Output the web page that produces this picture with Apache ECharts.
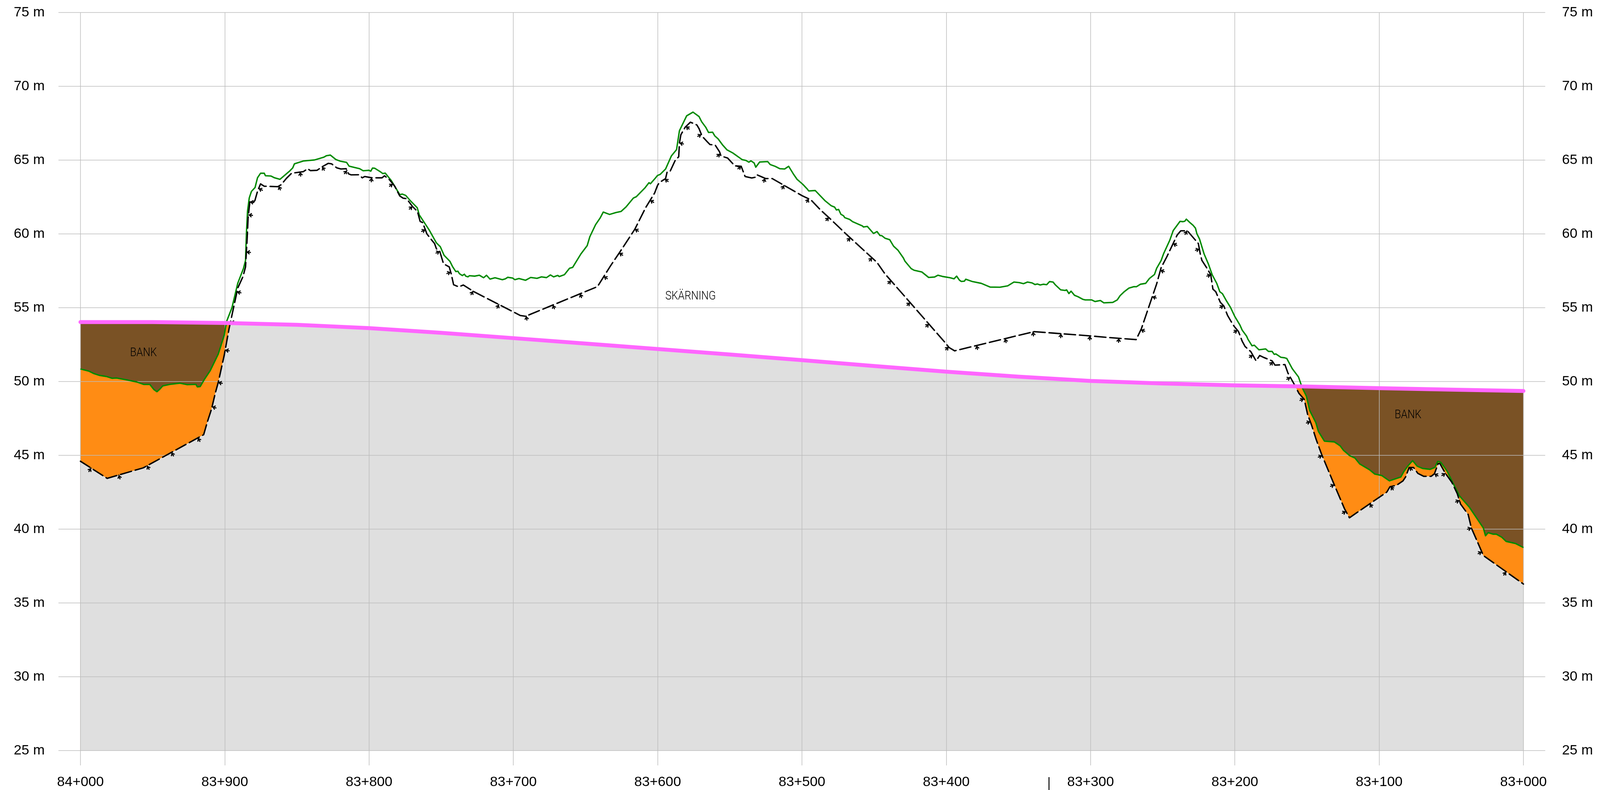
<!DOCTYPE html>
<html>
<head>
<meta charset="utf-8">
<script src="https://cdn.jsdelivr.net/npm/echarts@6/dist/echarts.min.js"></script>
<style>html,body{margin:0;padding:0;background:#fff;overflow:hidden}#c{width:100vw;height:100vh}</style>
</head>
<body>
<div id="c"></div>
<script>
const stationRange = [83000, 84000];
const levelRange = [25, 75];

const roadLine = [[84000,54.03],[83950,54.03],[83900,53.97],[83850,53.84],[83831,53.76],[83800,53.62],[83750,53.3],[83700,52.94],[83650,52.57],[83600,52.2],[83550,51.83],[83500,51.45],[83450,51.05],[83400,50.67],[83350,50.33],[83300,50.04],[83250,49.87],[83200,49.74],[83150,49.66],[83100,49.55],[83050,49.45],[83000,49.36]];

const groundLine = [[84000,50.85],[83998,50.8],[83994,50.7],[83991,50.55],[83987,50.42],[83982,50.34],[83978,50.22],[83975,50.24],[83967,50.09],[83961,49.97],[83956,49.8],[83952,49.81],[83949,49.45],[83947,49.31],[83945,49.48],[83943,49.7],[83938,49.81],[83931,49.89],[83926,49.79],[83920,49.81],[83919,49.64],[83917,49.66],[83914,50.16],[83910,50.75],[83904.5,51.86],[83900.4,53.12],[83898.6,54.1],[83895,55],[83891,56.65],[83887,57.67],[83885.6,58.2],[83885,60],[83884.2,61.55],[83883,62.44],[83881.5,62.88],[83879,63.14],[83877.3,63.8],[83875.2,64.11],[83872.6,64.11],[83871.8,63.94],[83867.9,63.92],[83865.5,63.8],[83861.7,63.7],[83854.9,64.27],[83852.9,64.47],[83851.7,64.75],[83845.5,64.94],[83837.8,65.01],[83831.3,65.2],[83829.5,65.3],[83826.8,65.34],[83823,65.04],[83820,64.93],[83815.6,64.85],[83813.8,64.59],[83806.5,64.42],[83804.1,64.28],[83800,64.31],[83798.8,64.25],[83797.6,64.46],[83796.1,64.45],[83792.3,64.22],[83790.5,64.09],[83788.8,64.12],[83784.7,63.63],[83778.7,62.66],[83777,62.7],[83774.6,62.61],[83771.1,62.22],[83766.6,61.77],[83765.2,61.29],[83758.1,60.23],[83753.3,59.39],[83750.6,59.13],[83748,58.55],[83744,58.15],[83742.2,57.8],[83739.9,57.45],[83738.4,57.47],[83737.4,57.31],[83735.4,57.18],[83733.9,57.27],[83733,57.14],[83731.4,57.09],[83730.5,57.17],[83726.8,57.14],[83723.5,57.2],[83720.6,57.03],[83718.6,57.2],[83716.2,56.94],[83712.7,57.03],[83707.6,56.9],[83705.5,56.96],[83703.9,57.06],[83700.5,57.01],[83699,56.9],[83696.1,56.98],[83691.5,56.86],[83688,57.05],[83683.6,56.99],[83680.5,57.09],[83677,57.04],[83674.3,57.22],[83672.1,57.09],[83669.2,57.19],[83668.2,57.11],[83664.6,57.24],[83661.1,57.67],[83658.9,57.73],[83653.2,58.64],[83648.8,59.21],[83647,59.81],[83643,60.63],[83639.9,61.07],[83637.7,61.48],[83633.3,61.32],[83628.9,61.45],[83625.4,61.52],[83621.9,61.83],[83616.8,62.43],[83614.8,62.52],[83608.7,63.13],[83606,63.47],[83605,63.4],[83601.6,63.78],[83600.1,63.96],[83598.3,64.03],[83594.5,64.4],[83590.5,65.28],[83586.9,65.71],[83584.9,66.99],[83579.9,68],[83575.5,68.25],[83571.3,67.95],[83569.5,67.6],[83566.7,67.23],[83564.7,66.87],[83561.9,66.89],[83560.4,66.64],[83558.1,66.44],[83555.1,66.04],[83552,65.7],[83548,65.49],[83541.4,65.03],[83538.9,64.98],[83536.8,64.86],[83535.3,64.95],[83533.1,64.8],[83532,64.52],[83529.3,64.87],[83523.7,64.9],[83522,64.7],[83518.6,64.58],[83515.4,64.42],[83512,64.4],[83509.2,64.58],[83506,64.07],[83503.4,63.7],[83499.4,63.36],[83496.4,63.05],[83495.3,62.91],[83490.8,62.94],[83487.2,62.57],[83483.8,62.23],[83479.7,61.91],[83477.4,61.82],[83476.1,61.62],[83474.6,61.66],[83473,61.33],[83471.2,61.23],[83470.3,61.1],[83466.9,60.98],[83464.9,60.83],[83458.1,60.54],[83457.4,60.47],[83454.7,60.51],[83450.4,60.03],[83448,60.16],[83445.9,59.89],[83444.6,59.88],[83442.3,59.7],[83439.2,59.61],[83436.5,59.17],[83433.5,58.9],[83429.7,58.37],[83428.6,58.15],[83424.3,57.65],[83422.3,57.54],[83416.9,57.42],[83412.2,57.05],[83408.1,57.08],[83405.8,57.2],[83402.7,57.12],[83397.3,57.03],[83394.6,56.96],[83392.8,57.14],[83390.9,56.87],[83389.6,56.78],[83387.4,56.8],[83386.5,56.93],[83381.8,56.77],[83375.7,56.65],[83369.6,56.4],[83362.8,56.39],[83357.4,56.48],[83353.1,56.74],[83349.3,56.7],[83346.4,56.63],[83343.7,56.74],[83340.5,56.68],[83338.5,56.57],[83336.9,56.61],[83334.9,56.54],[83332.8,56.59],[83330.4,56.56],[83328.4,56.77],[83326,56.74],[83324.3,56.54],[83320.7,56.21],[83317.6,56.17],[83316.6,56.21],[83315,55.96],[83313.5,56.12],[83311.1,55.84],[83308.8,55.75],[83305.4,55.57],[83303.7,55.53],[83299.3,55.53],[83296.9,55.42],[83293.2,55.49],[83290.8,55.33],[83284.6,55.36],[83281.5,55.53],[83279.5,55.82],[83276.7,56.08],[83273.4,56.33],[83269.9,56.43],[83268.2,56.42],[83265.5,56.59],[83261.8,56.65],[83259.2,56.98],[83255.7,57.25],[83254.2,57.67],[83251.1,58.2],[83249.3,58.68],[83245.1,59.57],[83242.7,60.23],[83238,60.85],[83235.9,60.83],[83234.7,60.86],[83233.6,61],[83231.4,60.79],[83228.9,60.58],[83227.3,60.39],[83226.3,60.01],[83224.5,59.66],[83221.3,58.64],[83218.2,57.93],[83215.7,57.23],[83212.5,56.64],[83210.4,56.08],[83208.6,55.95],[83206.1,55.51],[83203,55.02],[83200,54.4],[83196.5,53.83],[83194.9,53.48],[83191.9,53.08],[83190.9,52.86],[83188.1,52.42],[83186.5,52.46],[83183.3,52.15],[83178.7,52.21],[83176.7,52.04],[83174.2,52.04],[83172.7,51.84],[83171.6,51.87],[83168.1,51.64],[83165.6,51.61],[83164,51.56],[83160.2,50.87],[83155.9,50.31],[83153.4,49.6],[83150.4,49],[83148.1,48.03],[83143.9,47.22],[83142.1,46.62],[83137.9,45.96],[83131.1,45.91],[83127.1,45.65],[83124.8,45.35],[83120.3,44.97],[83116.8,44.82],[83113.5,44.42],[83106.8,44.03],[83103,43.73],[83098.2,43.63],[83092.9,43.27],[83085,43.53],[83082.7,43.93],[83080,44.29],[83076.8,44.64],[83073.7,44.27],[83069.9,44.11],[83064.7,44.05],[83061.4,44.18],[83059.4,44.59],[83057.4,44.54],[83052.9,43.93],[83049.6,43.27],[83044.4,42.26],[83037.6,41.5],[83027.8,40.08],[83026.3,39.55],[83024.5,39.76],[83021.1,39.66],[83018.8,39.66],[83015,39.45],[83012,39.17],[83005.3,39.02],[83000,38.75]];

const rockLine = [[84000,44.6],[83981.5,43.44],[83956.5,44.15],[83941,44.98],[83914.6,46.4],[83911.9,47.31],[83909.2,48.12],[83906.5,49.23],[83904.5,49.94],[83900.4,51.76],[83897,53.58],[83893.9,55],[83890.9,56.35],[83887.4,57.1],[83885.6,57.76],[83884.4,59.79],[83883.8,61.11],[83882.6,62.17],[83880.9,62.07],[83879.1,62.26],[83877.3,62.88],[83875.2,63.39],[83872.6,63.23],[83863.2,63.2],[83860.8,63.34],[83857.3,63.76],[83853.7,64.11],[83845.5,64.22],[83842.5,64.42],[83840.7,64.29],[83836,64.31],[83832.5,64.55],[83828.3,64.78],[83826,64.75],[83822.4,64.48],[83819.5,64.4],[83815.9,64.42],[83814.2,64.07],[83812.4,64],[83807.1,64.01],[83804.7,63.8],[83803,63.89],[83798,63.8],[83791,63.8],[83789.3,63.94],[83785.8,63.67],[83782.2,63.23],[83778.7,62.57],[83776.4,62.42],[83774,62.39],[83769.9,61.86],[83766.4,61.51],[83764.6,60.85],[83762.8,60.76],[83759.9,60],[83756.8,59.61],[83754.6,59.35],[83753.3,58.99],[83751,58.82],[83748.4,57.98],[83744.4,57.76],[83743.1,57.31],[83741.4,56.56],[83737.8,56.41],[83734.7,56.54],[83727.2,56.08],[83695.1,54.47],[83691.5,54.42],[83641.7,56.43],[83632.5,57.86],[83626.4,58.74],[83615.8,60.32],[83608.2,61.8],[83602.1,62.77],[83600.1,63.28],[83598.9,63.47],[83594.5,63.75],[83593.5,64.17],[83591.5,64.21],[83588,64.95],[83585.4,65.23],[83584.9,66.16],[83583.9,66.72],[83580.9,67.23],[83577.3,67.57],[83572.8,67.38],[83571.3,67.13],[83569.2,66.62],[83565.7,66.25],[83563.7,66.05],[83560.2,66.03],[83557.1,65.56],[83556.1,65.28],[83551.5,65.14],[83546.5,64.61],[83542.1,64.58],[83539.4,63.89],[83534.8,63.79],[83532.3,63.84],[83531.3,64.01],[83525.2,63.75],[83520.6,63.75],[83499.9,62.59],[83493.8,62.31],[83487.2,61.63],[83480.4,61.02],[83469.6,60.01],[83448,58.07],[83442.6,57.31],[83400.7,52.63],[83398,52.3],[83394.2,52.08],[83339.2,53.38],[83300,53.09],[83288.6,52.99],[83268.4,52.84],[83264.8,53.57],[83254.2,56.61],[83251.1,57.71],[83247.1,58.46],[83240,59.92],[83237.5,60.21],[83232.9,60.21],[83228.4,59.7],[83225.3,59.35],[83223.8,58.55],[83222.8,58.2],[83218.7,57.58],[83216.7,57.23],[83215.2,56.26],[83213.2,56.08],[83210.1,55.37],[83207.6,55.11],[83205.1,54.49],[83202.5,54.05],[83200.5,53.74],[83197.5,53.39],[83194.9,52.73],[83192.9,52.37],[83188.9,52.02],[83185.3,51.4],[83182.8,51.76],[83179.7,51.62],[83174.2,51.4],[83172.2,51.11],[83165.3,51.15],[83163.2,50.57],[83159.4,49.91],[83155.6,49.2],[83151.9,48.79],[83149.6,47.78],[83146.9,47.07],[83143.6,46.06],[83139.8,45.05],[83131.6,43.12],[83124.1,41.4],[83120.6,40.77],[83094.7,42.51],[83092.5,42.87],[83088,42.97],[83083.5,43.27],[83081.7,43.53],[83079.2,44.18],[83076.2,44.18],[83073.2,43.78],[83069.2,43.58],[83063.9,43.58],[83061.7,43.75],[83059.1,44.44],[83057.9,44.44],[83054.1,43.78],[83049.6,43.17],[83045.9,42.41],[83043.6,41.7],[83038.3,40.99],[83036.1,40.08],[83029.3,38.56],[83027.8,38.21],[83000,36.28]];

const rockTickStations = [83992.6,83973.4,83953.8,83936.9,83918.6,83908.8,83904.5,83899.7,83896,83891.5,83885,83883.6,83882.6,83876.5,83862.6,83847.8,83832.5,83815.3,83798.2,83783.5,83769.9,83761,83751,83743.4,83727.9,83710,83691.1,83672.6,83653.8,83637.3,83626.6,83615.8,83605.2,83595,83584.9,83580.4,83569.7,83556.6,83542.1,83525.7,83512.4,83495.3,83481.4,83466.5,83451.4,83438.2,83425,83412,83398.4,83379,83359.2,83339.9,83320.5,83300.4,83280.4,83265.1,83257.2,83251.6,83242.8,83233.2,83224.6,83216.7,83207.9,83198.2,83187.6,83173.8,83161.5,83152.2,83147.7,83139.5,83131.1,83123,83106.5,83092,83079.2,83061.7,83054.1,83044.4,83036.1,83028.9,83012];

// [outer station, crossing search limit]
const bankRanges = [[84000, 83880], [83000, 83170]];
const textNotes = [[83956.3, 51.92, 'BANK'], [83080, 47.72, 'BANK'], [83577.2, 55.78, 'SKÄRNING']];
const sectionMark = [[83328.8, 23.2], [83328.8, 22.33]];

const GREY = '#bdbdbd';
const BASE_GREY = '#dfdfdf';
const K = (window.innerWidth || 4191) / 4191;

function interp(line, st) {
  for (let i = 0; i < line.length - 1; i++) {
    const a = line[i], b = line[i + 1];
    if (st <= a[0] && st >= b[0]) {
      const t = (a[0] - st) / (a[0] - b[0]);
      return a[1] + t * (b[1] - a[1]);
    }
  }
  return st > line[0][0] ? line[0][1] : line[line.length - 1][1];
}
function mergedStations(A, B, hi, lo) {
  return Array.from(new Set(A.concat(B).map(p => p[0]).concat([hi, lo])))
    .filter(x => x <= hi && x >= lo).sort((p, q) => q - p);
}
function lowerEnvelope(A, B, hi, lo) {
  const xs = mergedStations(A, B, hi, lo), out = [];
  for (let i = 0; i < xs.length; i++) {
    const x = xs[i], ya = interp(A, x), yb = interp(B, x);
    out.push([x, Math.min(ya, yb)]);
    if (i < xs.length - 1) {
      const nx = xs[i + 1], da = ya - yb, db = interp(A, nx) - interp(B, nx);
      if (da * db < 0) {
        const cx = x + (nx - x) * da / (da - db);
        out.push([cx, interp(A, cx)]);
      }
    }
  }
  return out;
}
function crossing(A, B, outer, limit) {
  const hi = Math.max(outer, limit), lo = Math.min(outer, limit);
  let xs = mergedStations(A, B, hi, lo);
  if (outer < limit) xs = xs.slice().reverse();
  for (let i = 0; i < xs.length - 1; i++) {
    const da = interp(A, xs[i]) - interp(B, xs[i]), db = interp(A, xs[i + 1]) - interp(B, xs[i + 1]);
    if (da <= 0 && db > 0) return xs[i] + (xs[i + 1] - xs[i]) * (-da) / (db - da);
  }
  return limit;
}
function fill(data, color) {
  return { type: 'line', data, symbol: 'none', silent: true, z: 1, clip: false,
    lineStyle: { width: 0 }, itemStyle: { color }, areaStyle: { color, opacity: 1, origin: 'start' } };
}
function span(outer, inner) { return [Math.max(outer, inner), Math.min(outer, inner)]; }
function pieces() {
  const s = [fill(roadLine, BASE_GREY)];
  bankRanges.forEach(r => {
    const outer = r[0], limit = r[1];
    const gx = crossing(groundLine, roadLine, outer, limit);
    const rx = crossing(rockLine, roadLine, outer, limit);
    const dir = limit > outer ? 1 : -1;
    let a = span(outer, gx);
    s.push(fill(lowerEnvelope(roadLine, roadLine, a[0], a[1]), '#7a5225'));
    a = span(outer, rx);
    s.push(fill(lowerEnvelope(groundLine, roadLine, a[0], a[1]), '#ff8c14'));
    a = span(outer, rx + dir * 12);
    s.push(fill(lowerEnvelope(rockLine, roadLine, a[0], a[1]), BASE_GREY));
  });
  return s;
}
function renderRockTick(params, api) {
  const st = api.value(0), el = api.value(1);
  const p = api.coord([st, el]);
  const a = api.coord([st + 2.5, interp(rockLine, st + 2.5)]);
  const b = api.coord([st - 2.5, interp(rockLine, st - 2.5)]);
  let tx = b[0] - a[0], ty = b[1] - a[1];
  const len = Math.hypot(tx, ty) || 1; tx /= len; ty /= len;
  let nx = -ty, ny = tx;
  if (ny < 0 || (Math.abs(ny) < 0.001 && nx < 0)) { nx = -nx; ny = -ny; }
  const pt = (n, t) => [p[0] + nx * n + tx * t, p[1] + ny * n + ty * t];
  const style = { stroke: '#000', lineWidth: 2.8, lineCap: 'round', lineJoin: 'round', fill: null };
  return { type: 'group', children: [
    { type: 'polyline', shape: { points: [pt(0, 0), pt(10.5, 0)] }, style },
    { type: 'polyline', shape: { points: [pt(7.5, -4.2), pt(2.5, 0), pt(7.5, 4.2)] }, style }
  ] };
}
function renderNote(params, api) {
  const p = api.coord([api.value(0), api.value(1)]);
  return { type: 'text', x: p[0], y: p[1], scaleX: 0.85 * K, scaleY: 1,
    style: { text: textNotes[params.dataIndex][2], fill: '#000', fontSize: 32,
      fontFamily: 'Roboto', fontWeight: 300, align: 'center', verticalAlign: 'middle' } };
}

const chart = echarts.init(document.getElementById('c'), null, { renderer: 'canvas' });
const FONT = 36 * (K + 1) / 2;
const yAxisBase = {
  type: 'value', min: levelRange[0], max: levelRange[1], interval: 5, z: 3,
  axisLine: { show: false },
  axisLabel: { formatter: '{value} m', color: '#000', fontSize: FONT, fontFamily: 'Liberation Sans' }
};
chart.setOption({
  animation: false,
  backgroundColor: '#fff',
  grid: { left: 210.7 * K, top: 32, width: 3779.8 * K, height: 1890, containLabel: false },
  xAxis: {
    type: 'value', inverse: true, min: stationRange[0], max: stationRange[1], interval: 100, z: 3,
    axisLine: { show: false },
    axisTick: { show: true, length: 38, lineStyle: { color: GREY, width: 1.5 } },
    splitLine: { show: true, lineStyle: { color: GREY, width: 1.5 } },
    axisLabel: {
      color: '#000', fontSize: FONT, fontFamily: 'Liberation Sans', margin: 63,
      formatter: v => Math.floor(v / 1000) + '+' + String(v % 1000).padStart(3, '0')
    }
  },
  yAxis: [
    Object.assign({}, yAxisBase, {
      position: 'left',
      axisTick: { show: true, length: 57.6 * K, lineStyle: { color: GREY, width: 1.5 } },
      splitLine: { show: true, lineStyle: { color: GREY, width: 1.5 } },
      axisLabel: Object.assign({}, yAxisBase.axisLabel, { margin: 93.7 * K })
    }),
    Object.assign({}, yAxisBase, {
      position: 'right',
      axisTick: { show: true, length: 57 * K, lineStyle: { color: GREY, width: 1.5 } },
      splitLine: { show: false },
      axisLabel: Object.assign({}, yAxisBase.axisLabel, { margin: 101 * K })
    })
  ],
  series: pieces().concat([
    { type: 'line', data: groundLine, symbol: 'none', z: 5, clip: false,
      lineStyle: { color: '#008a00', width: 3.6, join: 'round' } },
    { type: 'line', data: rockLine, symbol: 'none', z: 6, clip: false,
      lineStyle: { color: '#000', width: 3.6, type: [29, 10], cap: 'round', join: 'round' } },
    { type: 'custom', z: 6, clip: false, renderItem: renderRockTick,
      data: rockTickStations.map(s => [s, interp(rockLine, s)]), encode: { x: 0, y: 1 } },
    { type: 'line', data: roadLine, symbol: 'none', z: 7, clip: false,
      lineStyle: { color: '#ff66ff', width: 10, cap: 'round', join: 'round' } },
    { type: 'line', data: sectionMark, symbol: 'none', z: 7, clip: false,
      lineStyle: { color: '#000', width: 2.5 } },
    { type: 'custom', z: 8, clip: false, renderItem: renderNote,
      data: textNotes.map(n => [n[0], n[1]]), encode: { x: 0, y: 1 } }
  ])
});
</script>
</body>
</html>
